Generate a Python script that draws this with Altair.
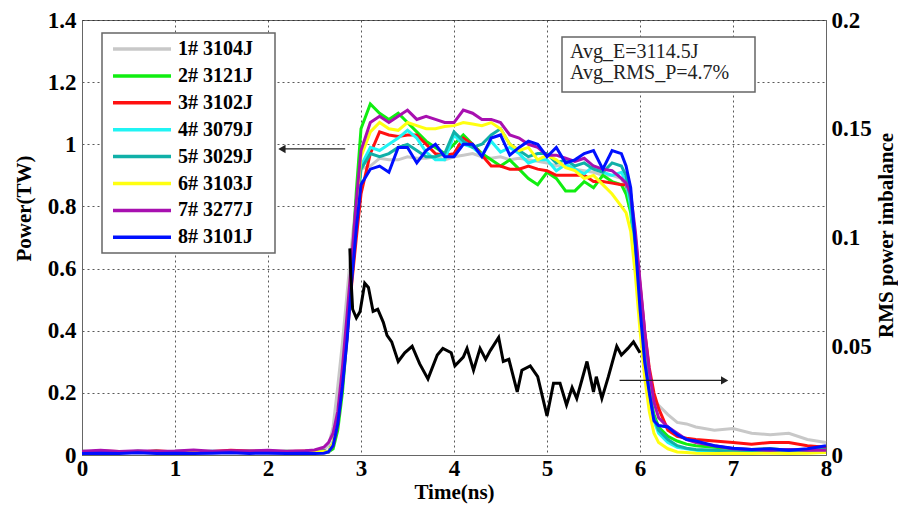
import altair as alt
import pandas as pd

# ---------------- data ----------------
time_ns = [0.0, 0.2, 0.4, 0.6, 0.8, 1.0, 1.2, 1.4, 1.6, 1.8, 2.0, 2.2, 2.4, 2.5, 2.6,
           2.65, 2.7, 2.75, 2.8, 2.85, 2.9, 2.95, 3.0,
           3.1, 3.2, 3.3, 3.4, 3.5, 3.6, 3.7, 3.8, 3.9, 4.0, 4.1, 4.2, 4.3, 4.4,
           4.5, 4.6, 4.7, 4.8, 4.9, 5.0, 5.1, 5.2, 5.3, 5.4, 5.5, 5.6, 5.7, 5.8,
           5.85, 5.9, 5.95, 6.0, 6.05, 6.1, 6.15, 6.2,
           6.3, 6.4, 6.5, 6.6, 6.8, 7.0, 7.2, 7.4, 7.6, 7.8, 8.0]

p1 = [0.010, 0.012, 0.008, 0.011, 0.009, 0.012, 0.010, 0.013, 0.009, 0.011, 0.012, 0.010, 0.012, 0.014, 0.018,
      0.03, 0.09, 0.22, 0.36, 0.52, 0.68, 0.82, 0.92,
      0.93, 0.955, 0.95, 0.95, 0.96, 0.955, 0.955, 0.96, 0.95, 0.96, 0.965, 0.97, 0.96, 0.955,
      0.96, 0.95, 0.955, 0.95, 0.945, 0.94, 0.93, 0.935, 0.92, 0.915, 0.91, 0.90, 0.90, 0.89,
      0.86, 0.80, 0.65, 0.48, 0.33, 0.24, 0.18, 0.16,
      0.13, 0.105, 0.10, 0.09, 0.08, 0.085, 0.07, 0.065, 0.07, 0.05, 0.04]
p2 = [0.012, 0.010, 0.009, 0.012, 0.010, 0.011, 0.013, 0.010, 0.011, 0.009, 0.010, 0.012, 0.010, 0.011, 0.012,
      0.01, 0.02, 0.08, 0.20, 0.38, 0.60, 0.85, 1.05,
      1.13, 1.10, 1.08, 1.10, 1.07, 1.04, 1.01, 0.99, 0.97, 1.00, 1.03, 1.00, 0.97, 0.95,
      0.93, 0.95, 0.92, 0.89, 0.87, 0.91, 0.89, 0.85, 0.85, 0.88, 0.86, 0.90, 0.88, 0.87,
      0.84, 0.78, 0.64, 0.47, 0.31, 0.20, 0.13, 0.09,
      0.06, 0.045, 0.035, 0.03, 0.025, 0.02, 0.018, 0.02, 0.015, 0.018, 0.02]
p3 = [0.010, 0.013, 0.011, 0.009, 0.014, 0.010, 0.012, 0.011, 0.015, 0.013, 0.012, 0.011, 0.013, 0.012, 0.014,
      0.01, 0.03, 0.10, 0.23, 0.38, 0.55, 0.70, 0.84,
      0.97, 1.04, 1.03, 1.025, 1.03, 1.03, 1.00, 0.97, 0.965, 0.97, 1.02, 1.00, 0.965, 0.93,
      0.93, 0.92, 0.92, 0.93, 0.92, 0.915, 0.90, 0.90, 0.90, 0.90, 0.88, 0.88, 0.875, 0.87,
      0.87, 0.82, 0.70, 0.55, 0.40, 0.28, 0.20, 0.15,
      0.08, 0.06, 0.054, 0.05, 0.045, 0.04, 0.035, 0.04, 0.04, 0.03, 0.025]
p4 = [0.009, 0.011, 0.010, 0.008, 0.011, 0.010, 0.009, 0.012, 0.010, 0.009, 0.011, 0.010, 0.009, 0.010, 0.012,
      0.01, 0.04, 0.12, 0.26, 0.42, 0.60, 0.78, 0.93,
      0.99, 0.98, 1.00, 1.02, 1.045, 1.02, 0.975, 0.95, 0.95, 1.03, 1.00, 0.99, 0.965, 1.01,
      0.975, 0.99, 0.97, 0.94, 0.95, 0.95, 0.915, 0.935, 0.92, 0.905, 0.93, 0.91, 0.90, 0.91,
      0.88, 0.80, 0.64, 0.46, 0.30, 0.19, 0.11, 0.07,
      0.04, 0.025, 0.02, 0.015, 0.01, 0.008, 0.01, 0.012, 0.01, 0.012, 0.015]
p5 = [0.010, 0.009, 0.011, 0.010, 0.012, 0.009, 0.010, 0.011, 0.010, 0.012, 0.009, 0.011, 0.010, 0.011, 0.013,
      0.01, 0.04, 0.12, 0.25, 0.41, 0.59, 0.77, 0.92,
      0.97, 0.96, 0.97, 0.99, 1.00, 0.98, 0.96, 0.96, 0.97, 1.04, 1.01, 0.99, 1.00, 1.03,
      1.05, 1.00, 0.98, 0.96, 0.97, 0.97, 0.94, 0.95, 0.93, 0.94, 0.92, 0.91, 0.94, 0.93,
      0.90, 0.82, 0.66, 0.48, 0.32, 0.20, 0.12, 0.08,
      0.05, 0.03, 0.022, 0.018, 0.015, 0.012, 0.012, 0.015, 0.012, 0.015, 0.018]
p6 = [0.008, 0.010, 0.009, 0.011, 0.008, 0.010, 0.012, 0.009, 0.010, 0.011, 0.009, 0.010, 0.011, 0.010, 0.011,
      0.01, 0.04, 0.12, 0.26, 0.43, 0.62, 0.80, 0.96,
      1.04, 1.07, 1.05, 1.045, 1.07, 1.06, 1.05, 1.05, 1.057, 1.06, 1.07, 1.065, 1.06, 1.07,
      1.05, 1.00, 0.98, 0.99, 0.95, 0.965, 0.95, 0.925, 0.915, 0.89, 0.90, 0.87, 0.84, 0.80,
      0.78, 0.72, 0.58, 0.40, 0.25, 0.14, 0.07, 0.04,
      0.02, 0.01, 0.008, 0.006, 0.005, 0.006, 0.005, 0.006, 0.005, 0.006, 0.008]
p7 = [0.012, 0.015, 0.011, 0.014, 0.012, 0.013, 0.016, 0.012, 0.014, 0.013, 0.015, 0.012, 0.014, 0.016, 0.025,
      0.04, 0.07, 0.14, 0.28, 0.45, 0.63, 0.82, 0.98,
      1.07, 1.09, 1.07, 1.09, 1.11, 1.08, 1.09, 1.08, 1.07, 1.07, 1.11, 1.10, 1.08, 1.08,
      1.07, 1.03, 1.02, 1.00, 0.99, 0.965, 0.965, 0.955, 0.945, 0.955, 0.93, 0.92, 0.915, 0.89,
      0.875, 0.84, 0.72, 0.56, 0.40, 0.27, 0.17, 0.12,
      0.09, 0.07, 0.05, 0.04, 0.03, 0.02, 0.018, 0.015, 0.018, 0.015, 0.015]
p8 = [0.005, 0.006, 0.005, 0.007, 0.005, 0.006, 0.005, 0.006, 0.007, 0.005, 0.006, 0.005, 0.006, 0.005, 0.006,
      0.01, 0.03, 0.10, 0.22, 0.37, 0.56, 0.73, 0.87,
      0.92, 0.93, 0.91, 0.99, 0.99, 0.94, 0.98, 1.00, 0.96, 0.96, 1.00, 1.00, 0.96, 1.02,
      1.03, 0.965, 0.99, 1.01, 1.00, 0.96, 0.99, 0.94, 0.95, 0.97, 0.98, 0.92, 0.98, 0.97,
      0.93, 0.86, 0.68, 0.47, 0.30, 0.20, 0.11, 0.095,
      0.09, 0.065, 0.05, 0.045, 0.03, 0.022, 0.018, 0.02, 0.015, 0.02, 0.03]

series_names = ["1# 3104J", "2# 3121J", "3# 3102J", "4# 3079J",
                "5# 3029J", "6# 3103J", "7# 3277J", "8# 3101J"]
series_colors = ["#c8c8c8", "#10ee10", "#ff1010", "#20f4f4",
                 "#10b0a8", "#ffff10", "#a810b0", "#0010ff"]

rms_time = [2.88, 2.89, 2.91, 2.95, 2.99, 3.04, 3.08, 3.13, 3.18, 3.24, 3.28, 3.33, 3.40,
            3.47, 3.55, 3.63, 3.72, 3.82, 3.88, 3.97, 4.01, 4.10, 4.14, 4.21, 4.28,
            4.34, 4.39, 4.48, 4.53, 4.59, 4.68, 4.73, 4.82, 4.90, 5.00, 5.07, 5.14,
            5.21, 5.27, 5.32, 5.43, 5.50, 5.53, 5.59, 5.66, 5.75, 5.80, 5.87, 5.93, 6.00]
rms_value = [0.095, 0.083, 0.067, 0.063, 0.066, 0.079, 0.077, 0.066, 0.067, 0.061, 0.055, 0.052, 0.043,
             0.047, 0.050, 0.042, 0.035, 0.046, 0.049, 0.047, 0.041, 0.045, 0.049, 0.039, 0.049,
             0.044, 0.048, 0.054, 0.043, 0.044, 0.029, 0.039, 0.041, 0.036, 0.018, 0.033, 0.033,
             0.023, 0.031, 0.026, 0.043, 0.029, 0.036, 0.026, 0.036, 0.050, 0.046, 0.049, 0.052, 0.047]

annotation_lines = ["Avg_E=3114.5J", "Avg_RMS_P=4.7%"]

# arrows (data coordinates on the power axis)
arrow_left = {"x1": 2.15, "x2": 2.83, "y": 0.985}
arrow_right = {"x1": 5.78, "x2": 6.91, "y": 0.24}

# ---------------- build tables ----------------
all_series = [p1, p2, p3, p4, p5, p6, p7, p8]
rows = []
for name, vals in zip(series_names, all_series):
    for t, v in zip(time_ns, vals):
        rows.append({"t": t, "P": v, "s": name})
df = pd.DataFrame(rows)
rms_df = pd.DataFrame({"t": rms_time, "R": rms_value})

SERIF = "Liberation Serif"
W, H = 744, 435
GRID = dict(grid=True, gridDash=[2, 3], gridColor="#222", gridOpacity=0.75, gridWidth=1)
LAB = dict(labelFont=SERIF, labelFontWeight="bold", labelFontSize=23,
           labelColor="black", labelFlush=False)
TIT = dict(titleFont=SERIF, titleFontWeight="bold", titleFontSize=21, titleColor="black")

color_scale = alt.Scale(domain=series_names, range=series_colors)

x_enc = alt.X("t:Q", scale=alt.Scale(domain=[0, 8], nice=False),
              axis=alt.Axis(values=list(range(0, 9)), format="d", ticks=False,
                            domainColor="#666", labelPadding=2, title="Time(ns)",
                            titlePadding=1, **GRID, **LAB, **TIT))

power = alt.Chart(df).mark_line(strokeWidth=3).encode(
    x=x_enc,
    y=alt.Y("P:Q", scale=alt.Scale(domain=[0, 1.4], nice=False),
            axis=alt.Axis(values=[0, 0.2, 0.4, 0.6, 0.8, 1.0, 1.2, 1.4], format="~g",
                          ticks=False, domainColor="#666", labelPadding=6,
                          title="Power(TW)", titleX=-58, titleY=188, titleAngle=270,
                          titleAlign="center", titleBaseline="middle",
                          **GRID, **LAB, **TIT)),
    color=alt.Color("s:N", scale=color_scale, legend=None),
)

arrows_df = pd.DataFrame([arrow_left, arrow_right])
arrow_lines = alt.Chart(arrows_df).mark_rule(color="#222", strokeWidth=1.2).encode(
    x="x1:Q", x2="x2:Q", y="y:Q")
head_left = alt.Chart(pd.DataFrame([arrow_left])).mark_point(
    shape="triangle-left", filled=True, color="#222", size=70, opacity=1).encode(
    x="x1:Q", y="y:Q")
head_right = alt.Chart(pd.DataFrame([arrow_right])).mark_point(
    shape="triangle-right", filled=True, color="#222", size=70, opacity=1).encode(
    x="x2:Q", y="y:Q")

left_group = alt.layer(power, arrow_lines, head_left, head_right)

rms = alt.Chart(rms_df).mark_line(color="black", strokeWidth=3).encode(
    x="t:Q",
    y=alt.Y("R:Q", scale=alt.Scale(domain=[0, 0.2], nice=False),
            axis=alt.Axis(orient="right", values=[0, 0.05, 0.1, 0.15, 0.2], format="~g",
                          grid=False, ticks=False, domainColor="#666", labelPadding=5,
                          title="RMS power imbalance", titleAngle=270,
                          titleX=60, titleY=215, titleAlign="center",
                          titleBaseline="middle", **LAB, **TIT)),
)

# ---------------- legend box and annotation (pixel placement inside plot) ----------------
one = pd.DataFrame({"k": [0]})
leg_df = pd.DataFrame({"s": series_names,
                       "ly": [29 + 26.9 * i for i in range(len(series_names))]})

leg_box = alt.Chart(one).mark_rect(fill="white", stroke="#666", strokeWidth=1.5).encode(
    x=alt.value(20), x2=alt.value(193), y=alt.value(13), y2=alt.value(233))
leg_lines = alt.Chart(leg_df).mark_rule(strokeWidth=3.5).encode(
    x=alt.value(31), x2=alt.value(89),
    y=alt.Y("ly:Q", scale=None, axis=None),
    color=alt.Color("s:N", scale=color_scale, legend=None))
leg_text = alt.Chart(leg_df).mark_text(
    align="left", baseline="middle", font=SERIF, fontWeight="bold",
    fontSize=20, color="black").encode(
    x=alt.value(96), y=alt.Y("ly:Q", scale=None, axis=None), text="s:N")

ann_df = pd.DataFrame({"txt": annotation_lines, "ay": [32, 53]})
ann_box = alt.Chart(one).mark_rect(fill="white", stroke="#666", strokeWidth=1.5).encode(
    x=alt.value(480), x2=alt.value(673), y=alt.value(17), y2=alt.value(72))
ann_text = alt.Chart(ann_df).mark_text(
    align="left", baseline="middle", font=SERIF, fontSize=20, color="#222").encode(
    x=alt.value(488), y=alt.Y("ay:Q", scale=None, axis=None), text="txt:N")

chart = alt.layer(
    left_group, rms, leg_box, leg_lines, leg_text, ann_box, ann_text
).resolve_scale(y="independent").properties(
    width=W, height=H,
    autosize=alt.AutoSizeParams(type="none"),
    padding={"left": 74, "top": 12, "right": 72, "bottom": 51},
    background="white",
).configure_view(stroke="#666", strokeWidth=1)

chart.save("out.html", embed_options={"renderer": "svg", "actions": False})
